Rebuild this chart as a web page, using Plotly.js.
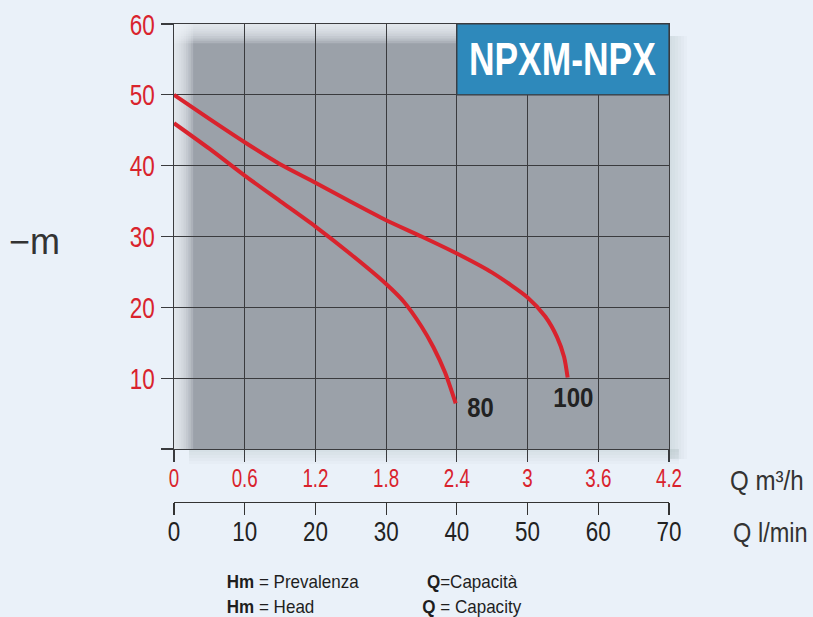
<!DOCTYPE html>
<html>
<head>
<meta charset="utf-8">
<script src="https://cdn.plot.ly/plotly-3.0.1.min.js"></script>
<style>html,body{margin:0;padding:0;background:#eaf1f9;}#chart{width:813px;height:617px;}</style>
</head>
<body>
<div id="chart"></div>
<script>
// ---- data (Q in m3/h, H in m) ----
const q100 = [0, 0.3, 0.6, 0.9, 1.2, 1.5, 1.8, 2.1, 2.4, 2.7, 3.0, 3.15, 3.25, 3.31, 3.34];
const h100 = [50, 46.6, 43.3, 40.2, 37.6, 34.9, 32.3, 30.0, 27.6, 24.9, 21.4, 18.7, 15.8, 13.0, 10.1];
const q80 = [0, 0.3, 0.6, 0.9, 1.2, 1.5, 1.8, 1.95, 2.1, 2.2, 2.3, 2.39];
const h80 = [46, 42.4, 38.6, 35.0, 31.4, 27.5, 23.3, 20.8, 17.3, 14.4, 10.8, 6.45];
const curveNames = ['100', '80'];
const qTicks = [0, 0.6, 1.2, 1.8, 2.4, 3, 3.6, 4.2];
const qTickText = ['0', '0.6', '1.2', '1.8', '2.4', '3', '3.6', '4.2'];
const lminTicks = [0, 10, 20, 30, 40, 50, 60, 70];
const hTicks = [0, 10, 20, 30, 40, 50, 60];
const hTickText = ['', '10', '20', '30', '40', '50', '60'];
const modelName = 'NPXM-NPX';

const FN = '"Liberation Sans", Arial, sans-serif';
const RED = '#d9232d';
const DARK = '#222222';
const GRID = '#3a3b3e';

const lineStyle = {color: RED, width: 4, shape: 'spline', smoothing: 0.7};
const traces = [
  {x: q100, y: h100, mode: 'lines', line: lineStyle, name: curveNames[0], hoverinfo: 'skip', showlegend: false},
  {x: q80, y: h80, mode: 'lines', line: lineStyle, name: curveNames[1], hoverinfo: 'skip', showlegend: false},
  {x: [], y: [], xaxis: 'x2', yaxis: 'y', mode: 'markers', hoverinfo: 'skip', showlegend: false}
];

// pixel helpers for soft-shadow bands
const pxQ = 0.6 / 70.8;   // Q per pixel
const pxH = 10 / 70.8;    // H per pixel
const shapes = [];
for (let i = 1; i <= 8; i++) {
  shapes.push({type: 'rect', xref: 'x', yref: 'y', x0: 0, x1: i * 2.4 * pxQ, y0: 0, y1: 60,
    fillcolor: '#eef3f8', opacity: 0.2, line: {width: 0}, layer: 'below'});
}
for (let i = 1; i <= 8; i++) {
  shapes.push({type: 'rect', xref: 'x', yref: 'y', x0: 0, x1: 4.2, y0: 60 - i * 2.4 * pxH, y1: 60,
    fillcolor: '#eef3f8', opacity: 0.2, line: {width: 0}, layer: 'below'});
}
for (let i = 1; i <= 6; i++) {
  shapes.push({type: 'rect', xref: 'paper', yref: 'paper', x0: 1, x1: 1 + i * 3 / 495,
    y0: (53 - 10) / 478, y1: 1 - 12 / 478,
    fillcolor: '#9aa8b8', opacity: 0.05, line: {width: 0}, layer: 'below'});
}
for (let i = 1; i <= 5; i++) {
  shapes.push({type: 'rect', xref: 'paper', yref: 'paper', x0: 15 / 495, x1: 1 + 10 / 495,
    y0: (53 - i * 3) / 478, y1: 53 / 478,
    fillcolor: '#9aa8b8', opacity: 0.05, line: {width: 0}, layer: 'below'});
}
shapes.push({type: 'rect', xref: 'x', yref: 'y', x0: 2.4, x1: 4.2, y0: 50, y1: 60,
  fillcolor: '#2e89bb', line: {color: '#3a3d42', width: 1.2}, layer: 'above'});

const ann = (text, xref, yref, x, y, size, color) => ({xref, yref, x, y, text, showarrow: false,
  font: {family: FN, size, color}, xanchor: 'center', yanchor: 'middle'});
const px2paperX = p => (p - 174) / 495;
const px2paperY = p => (502 - p) / 478;
const annotations = [
  ann('<b>' + modelName + '</b>', 'x', 'y', 3.297, 55.0, 46, '#ffffff'),
  ann('<b>' + curveNames[1] + '</b>', 'x', 'y', 2.597, 5.9, 28, DARK),
  ann('<b>' + curveNames[0] + '</b>', 'x', 'y', 3.39, 7.3, 28, DARK),
  ann('\u2212m', 'paper', 'paper', px2paperX(34.5), px2paperY(241), 36, '#333333'),
  ann('Q m\u00b3/h', 'paper', 'paper', px2paperX(766.5), px2paperY(480), 28, '#333333'),
  ann('Q l/min', 'paper', 'paper', px2paperX(770.5), px2paperY(532), 28, '#333333'),
  ann('<b>Hm</b> = Prevalenza', 'paper', 'paper', px2paperX(292.5), px2paperY(581), 18.5, '#1e1e1e'),
  ann('<b>Hm</b> = Head', 'paper', 'paper', px2paperX(270), px2paperY(606), 18.5, '#1e1e1e'),
  ann('<b>Q</b>=Capacità', 'paper', 'paper', px2paperX(472.7), px2paperY(581), 18.5, '#1e1e1e'),
  ann('<b>Q</b> = Capacity', 'paper', 'paper', px2paperX(472.2), px2paperY(606), 18.5, '#1e1e1e')
];
// horizontal squeeze factor per annotation (condensed typeface look)
const annSqueeze = [0.77, 0.85, 0.86, 1.0, 0.86, 0.84, 0.92, 0.92, 0.92, 0.92];

const layout = {
  width: 813, height: 617,
  margin: {l: 174, r: 144, t: 24, b: 115, pad: 0},
  paper_bgcolor: '#eaf1f9',
  plot_bgcolor: '#9ba1a9',
  showlegend: false,
  hovermode: false,
  xaxis: {
    range: [0, 4.2], tickvals: qTicks, ticktext: qTickText,
    showgrid: true, gridcolor: GRID, gridwidth: 1, zeroline: false,
    showline: true, linecolor: GRID, linewidth: 1.2, mirror: true,
    ticks: 'outside', ticklen: 12, tickcolor: GRID, tickwidth: 1.2,
    ticklabelstandoff: -5,
    tickfont: {family: FN, size: 25, color: RED}, anchor: 'y', fixedrange: true
  },
  xaxis2: {
    range: [0, 70], tickvals: lminTicks, overlaying: 'x', anchor: 'free', position: 0, side: 'bottom',
    showgrid: false, zeroline: false, showline: true, linecolor: '#333333', linewidth: 1.2,
    ticks: 'outside', ticklen: 12, tickcolor: '#333333', tickwidth: 1.2,
    ticklabelstandoff: -8,
    tickfont: {family: FN, size: 28, color: DARK}, fixedrange: true
  },
  yaxis: {
    range: [0, 60], domain: [53 / 478, 1], tickvals: hTicks, ticktext: hTickText,
    showgrid: true, gridcolor: GRID, gridwidth: 1, zeroline: false,
    showline: true, linecolor: GRID, linewidth: 1.2, mirror: true,
    ticks: 'outside', ticklen: 12, tickcolor: GRID, tickwidth: 1.2,
    tickfont: {family: FN, size: 30, color: RED}, fixedrange: true
  },
  shapes: shapes,
  annotations: annotations
};

function squeeze(el, f) {
  if (!el || f === 1) return;
  const L = el.getComputedTextLength();
  if (!L) return;
  el.setAttribute('textLength', (L * f).toFixed(2));
  el.setAttribute('lengthAdjust', 'spacingAndGlyphs');
}

Plotly.newPlot('chart', traces, layout, {displayModeBar: false, staticPlot: true}).then(gd => {
  gd.querySelectorAll('.xtick text, .ytick text').forEach(t => squeeze(t, 0.75));
  gd.querySelectorAll('.x2tick text').forEach(t => squeeze(t, 0.8));
  gd.querySelectorAll('.annotation').forEach((a, i) => {
    squeeze(a.querySelector('text.annotation-text'), annSqueeze[i] || 1);
  });
});
</script>
</body>
</html>
